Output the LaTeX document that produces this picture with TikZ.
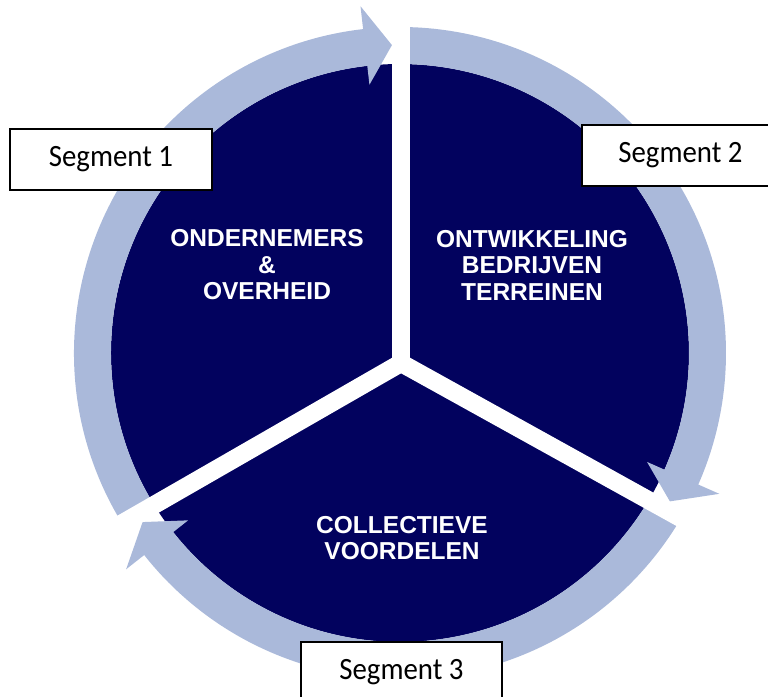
\documentclass[tikz,border=0pt]{standalone}
\usepackage{fontspec}
\setmainfont{Liberation Sans}
\newfontfamily\segfont[FakeStretch=0.93]{Carlito}
\definecolor{navy}{RGB}{2,2,94}
\definecolor{ringblue}{RGB}{170,185,218}
\tikzset{
  ringseg/.style={fill=ringblue},
  gapline/.style={draw=white,line width=18pt},
  intext/.style={text=white,font=\bfseries\fontsize{24.5}{26.5}\selectfont,align=center,inner sep=0pt},
  segbox/.style={draw=black,fill=white,line width=1.5pt,font=\segfont\fontsize{31}{31}\selectfont,inner sep=0pt,minimum height=61pt}
}
\begin{document}
\begin{tikzpicture}[x=1pt,y=1pt]
\useasboundingbox (0,0) rectangle (768,696);
\coordinate (C) at (400,343);
\coordinate (J) at (401,333);
\fill[navy] (C) circle[radius=289];
% ring segments with arrowheads (clockwise)
\fill[ringseg,shift={(C)}] (211.6:326) arc[start angle=211.6,end angle=96.5,radius=326]
  -- (96.5:349) -- (91.5:308) -- (96.5:270) -- (96.5:289)
  arc[start angle=96.5,end angle=211.6,radius=289] -- cycle;
\fill[ringseg,shift={(C)}] (89.8:326) arc[start angle=89.8,end angle=-23.8,radius=326]
  -- (-23.8:349) -- (-28.8:308) -- (-23.8:270) -- (-23.8:289)
  arc[start angle=-23.8,end angle=89.8,radius=289] -- cycle;
\fill[ringseg,shift={(C)}] (-30.5:326) arc[start angle=-30.5,end angle=-141.7,radius=326]
  -- (-141.7:349) -- (-146.7:308) -- (-141.7:270) -- (-141.7:289)
  arc[start angle=-141.7,end angle=-30.5,radius=289] -- cycle;
% white gaps
\draw[gapline] (J) -- ++(90:400) coordinate (g1);
\draw[gapline] (J) -- ++(-29:400) coordinate (g2);
\draw[gapline] (J) -- ++(-150.1:400) coordinate (g3);
\fill[white] (J) circle[radius=9];
% inner texts
\node[intext] (t1) at (267,431) {ONDERNEMERS\\\&\\OVERHEID};
\node[intext] (t2) at (532,431) {ONTWIKKELING\\BEDRIJVEN\\TERREINEN};
\node[intext] (t3) at (402,158) {COLLECTIEVE\\VOORDELEN};
% segment labels
\node[segbox,minimum width=202pt] (s1) at (111,536.5) {Segment 1};
\node[segbox,minimum width=197pt] (s2) at (680.5,540.5) {Segment 2};
\node[segbox,minimum width=201pt,minimum height=60pt] (s3) at (401.5,24) {Segment 3};
\end{tikzpicture}
\end{document}
